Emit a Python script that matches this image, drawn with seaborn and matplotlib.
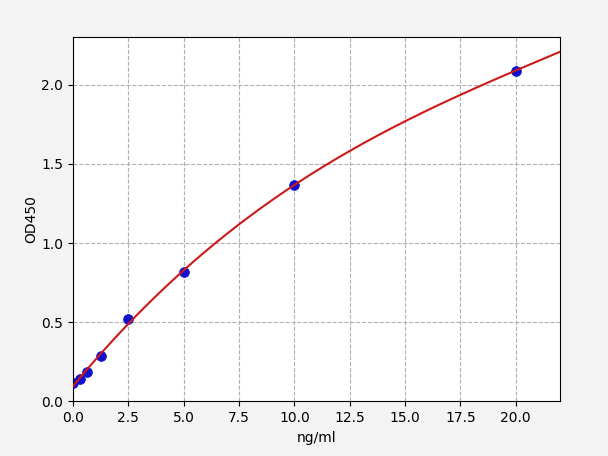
import numpy as np
import pandas as pd
import matplotlib
matplotlib.use("Agg")
import matplotlib.pyplot as plt
import seaborn as sns

# standard points (ng/ml vs OD450)
conc = [0.0, 0.3125, 0.625, 1.25, 2.5, 5.0, 10.0, 20.0]
od450 = [0.114, 0.139, 0.185, 0.286, 0.520, 0.814, 1.369, 2.090]

df = pd.DataFrame({"ng/ml": conc, "OD450": od450})

# fitted curve from the standards
coef = np.polyfit(df["ng/ml"], df["OD450"], 3)
xfit = np.linspace(0, 22, 300)
fit_df = pd.DataFrame({"ng/ml": xfit, "OD450": np.polyval(coef, xfit)})

fig = plt.figure(figsize=(6.08, 4.561), dpi=100, facecolor="#f3f3f3")
ax = fig.add_axes([0.12, 0.12, 0.801, 0.798])
ax.set_facecolor("white")

sns.scatterplot(data=df, x="ng/ml", y="OD450", color="#1010cc", s=50,
                edgecolor="#1010cc", linewidth=0.5, zorder=2, ax=ax)
sns.lineplot(data=fit_df, x="ng/ml", y="OD450", color="#cc1a1a", lw=1.5,
             zorder=3, ax=ax)

ax.set_xlim(0, 22)
ax.set_ylim(0, 2.3)
ax.set_xticks(np.arange(0, 20.1, 2.5))
ax.set_yticks(np.arange(0, 2.01, 0.5))
ax.grid(True, linestyle="--", color="#b0b0b0", linewidth=0.8)
ax.set_axisbelow(True)
ax.set_xlabel("ng/ml")
ax.set_ylabel("OD450", labelpad=2)

fig.savefig("out.png", dpi=100, facecolor=fig.get_facecolor())
